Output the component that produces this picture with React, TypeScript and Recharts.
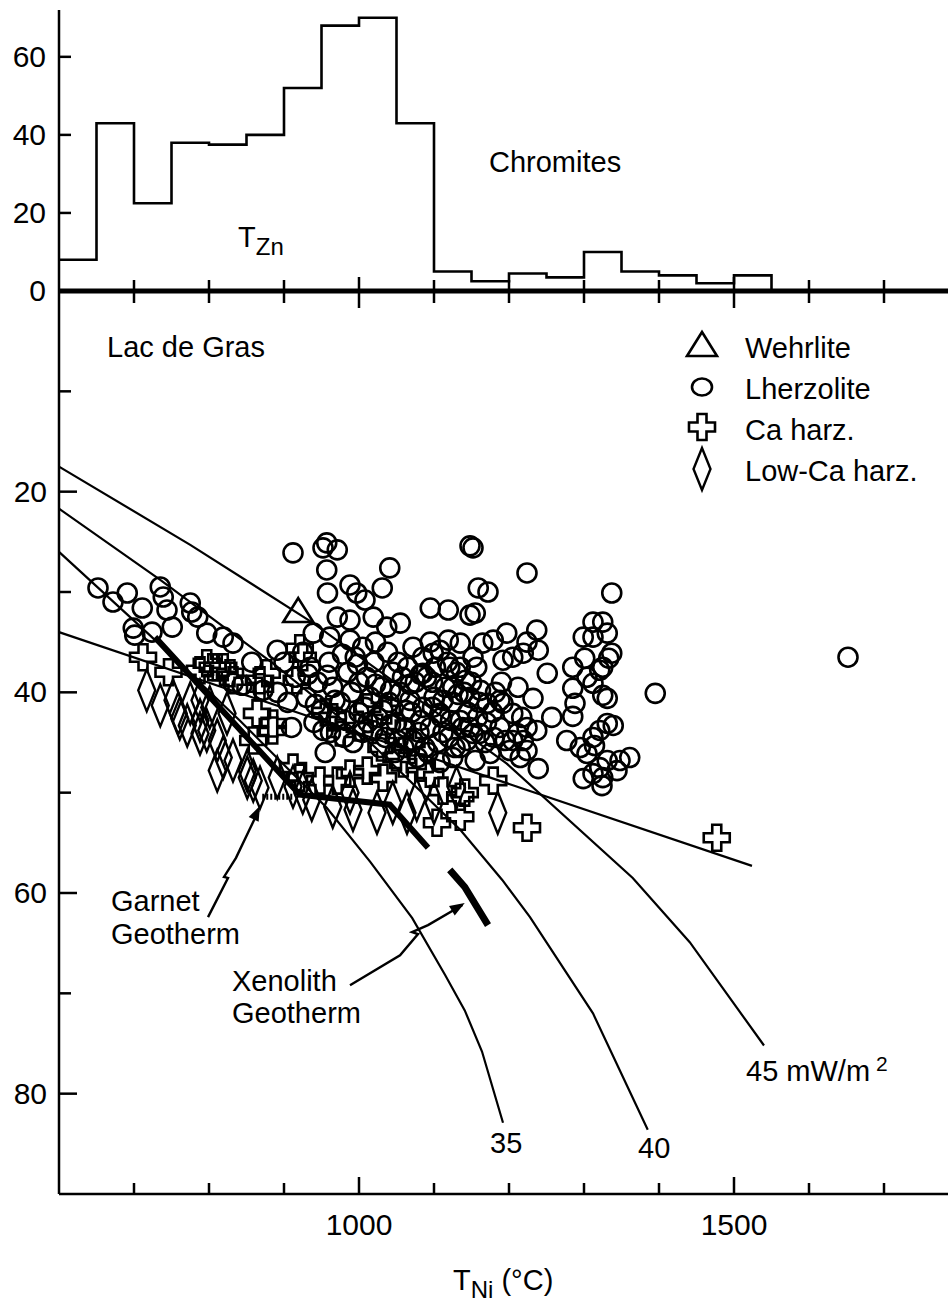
import React from "react";
import { ComposedChart, Line, Scatter, XAxis, YAxis } from "recharts";

const FONT = '"Liberation Sans", Arial, Helvetica, sans-serif';

// T(Zn) histogram of chromites, 50 °C bins
const binStarts = [600, 650, 700, 750, 800, 850, 900, 950, 1000, 1050, 1100, 1150, 1200, 1250, 1300, 1350, 1400, 1450, 1500];
const binCounts = [8, 43, 22.5, 38, 37.5, 40, 52, 68, 70, 43, 5, 2.5, 4.5, 3.5, 10, 5, 4, 2, 4];
const binWidth = 50;

const tempTicks = [600, 700, 800, 900, 1000, 1100, 1200, 1300, 1400, 1500, 1600, 1700, 1800];
const tempLabels = [1000, 1500];
const histTicks = [0, 20, 40, 60];
const pressTicks = [10, 20, 30, 40, 50, 60, 70, 80];
const pressLabels = [20, 40, 60, 80];

// garnet xenocrysts: [T_Ni °C, P kbar]
const wehrlite = [[919, 32.0]];

const lherzolite = [
  [652, 29.6], [672, 31.0], [691, 30.1], [711, 31.6], [735, 29.5], [739, 30.5], [744, 31.8],
  [699, 33.6], [701, 34.3], [724, 34.0], [751, 33.5], [775, 31.1], [777, 32.0], [785, 32.5],
  [797, 34.1], [819, 34.5], [832, 35.1], [891, 35.8], [857, 37.0], [832, 39.1], [844, 39.3],
  [872, 39.8], [891, 40.0],
  [912, 26.1], [952, 25.6], [957, 25.1], [971, 25.8], [957, 27.8], [958, 30.1], [988, 29.3],
  [997, 30.1], [1008, 30.8], [1041, 27.6], [1031, 29.6],
  [1095, 31.6], [1119, 31.8], [1148, 32.3], [1155, 32.1], [971, 32.5], [988, 32.8], [1019, 32.5],
  [1037, 33.5], [1055, 33.1], [939, 34.1], [961, 34.5], [988, 34.8], [1072, 35.5], [1099, 36.1],
  [1135, 35.1], [1152, 36.5], [1095, 35.0], [1119, 34.8],
  [1148, 25.4], [1152, 25.6], [1224, 28.1], [1159, 29.6], [1172, 30.0], [1337, 30.1],
  [1312, 33.0], [1325, 33.0], [1331, 34.1], [1299, 34.5], [1312, 34.5], [1237, 33.8], [1197, 34.1],
  [1179, 34.8], [1165, 35.1], [1205, 36.5], [1219, 36.1], [1239, 35.8], [1224, 35.0], [1192, 36.8],
  [1337, 36.1], [1285, 37.5], [1301, 36.6], [1325, 37.5], [1333, 36.6], [1251, 38.1],
  [1285, 39.6], [1304, 38.5], [1312, 39.1], [1321, 37.8], [1325, 40.3], [1331, 40.6], [1395, 40.1],
  [1288, 41.1], [1285, 42.4], [1257, 42.5], [1212, 39.5], [1232, 40.6],
  [1192, 41.1], [1205, 42.1], [1217, 42.5], [1224, 43.5], [1237, 43.8], [1211, 44.1], [1219, 44.8],
  [1215, 46.5], [1201, 45.8], [1331, 43.1], [1339, 43.3], [1321, 43.8], [1312, 44.5],
  [1277, 44.8], [1295, 45.5], [1304, 46.1], [1314, 45.3], [1361, 46.5], [1348, 46.8], [1331, 46.8],
  [1321, 47.5], [1312, 48.1], [1325, 48.5], [1344, 47.8], [1239, 47.6], [1299, 48.6], [1324, 49.3],
  [1155, 46.8], [1175, 46.1], [1135, 42.8], [1148, 43.5], [1135, 45.5], [1144, 44.8], [1152, 44.1],
  [1108, 35.8], [1085, 38.1], [1121, 37.5], [1157, 37.5], [1188, 40.8], [1171, 41.1], [1148, 40.5],
  [1125, 39.5], [1108, 42.1], [1161, 44.1], [1188, 43.5], [1205, 44.8], [1224, 45.8],
  [925, 36.0], [935, 37.5], [945, 39.0], [930, 40.5], [950, 41.8], [940, 43.0], [960, 37.0],
  [965, 39.5], [975, 41.0], [970, 42.5], [985, 38.0], [990, 40.0], [995, 36.5], [1000, 42.0],
  [1005, 44.0], [1010, 38.5], [1015, 40.5], [1020, 37.0], [1025, 42.5], [1030, 39.5], [1035, 44.5],
  [1040, 41.0], [1045, 38.0], [1050, 43.0], [1055, 40.0], [1060, 45.5], [1065, 37.5], [1070, 42.0],
  [1075, 39.0], [1080, 44.0], [1085, 41.5], [1090, 38.5], [1095, 43.5], [1100, 40.5], [1105, 45.0],
  [1110, 42.5], [1115, 39.5], [1120, 44.5], [1125, 41.0], [1130, 38.0], [1140, 40.0], [1145, 42.0],
  [1150, 39.0], [1160, 41.0], [1170, 43.0], [1180, 44.5], [1190, 39.0], [1000, 39.0], [1012, 43.0],
  [1028, 45.5], [1048, 46.0], [1062, 43.5], [1078, 46.5], [1092, 46.0], [1102, 37.5], [1118, 37.0],
  [1135, 37.5], [980, 44.5], [962, 44.0], [955, 46.0], [1108, 47.0], [1125, 46.5], [1058, 38.5],
  [1038, 36.0], [1022, 35.0], [1005, 35.5], [1068, 40.8], [1085, 36.5], [905, 41.0], [915, 38.5],
  [900, 37.0], [910, 43.5],
  [932, 38.2], [942, 41.2], [952, 43.8], [958, 38.3], [968, 40.8], [978, 36.2], [982, 42.8],
  [992, 45.0], [998, 37.2], [1008, 41.5], [1018, 43.8], [1022, 39.2], [1032, 41.8], [1042, 43.2],
  [1042, 39.8], [1052, 37.0], [1052, 44.8], [1062, 41.8], [1068, 39.2], [1072, 44.8], [1082, 38.2],
  [1082, 42.8], [1088, 45.5], [1098, 41.5], [1098, 39.0], [1112, 40.8], [1112, 44.0], [1122, 42.8],
  [1128, 45.5], [1132, 40.2], [1138, 43.5], [1142, 38.8], [1158, 42.5], [1162, 39.8], [1168, 45.0],
  [1178, 42.0], [1182, 40.0], [1195, 44.8],
  [1652, 36.5],
];

const caHarz = [
  [712, 36.5], [746, 38.0], [797, 37.1], [788, 37.8], [805, 37.5], [811, 37.5], [819, 37.5],
  [828, 38.1], [832, 38.8], [868, 38.8], [868, 39.5], [877, 38.1], [925, 36.5], [917, 38.8],
  [864, 42.1], [885, 43.1], [885, 43.8], [859, 44.8], [921, 35.6], [955, 42.0], [965, 42.5],
  [975, 44.0], [1011, 41.5], [1037, 41.8], [1001, 43.5], [1055, 44.1], [1030, 45.5], [1050, 46.5],
  [1070, 45.0], [912, 47.5], [921, 48.5], [948, 48.8], [971, 48.8], [988, 48.1], [1011, 47.8],
  [1032, 48.5], [1059, 47.1], [1081, 47.5], [1095, 48.1], [1112, 49.8], [1135, 50.4], [1104, 53.0],
  [1135, 52.4], [1179, 48.8], [1141, 50.0], [1224, 53.5], [1477, 54.5],
];

const lowCaHarz = [
  [717, 39.8], [735, 41.3], [752, 40.8], [759, 42.1], [761, 42.6], [771, 43.3], [775, 41.1],
  [788, 40.8], [788, 42.8], [788, 44.1], [797, 43.8], [801, 41.5], [811, 44.8], [819, 46.5],
  [811, 47.8], [824, 42.1], [832, 46.8], [851, 47.8], [851, 48.5], [859, 48.8], [868, 49.5],
  [891, 48.5], [912, 49.4], [925, 50.0], [937, 50.7], [965, 51.4], [988, 50.0], [992, 51.7],
  [1024, 52.0], [1045, 51.0], [1064, 52.0], [1077, 50.7], [1100, 51.0], [1130, 49.5], [1185, 52.0],
];

// model geotherms (mW/m2) and graphite-diamond boundary
const geotherm35 = [[600, 26.0], [721, 34.3], [841, 42.8], [957, 51.5], [1015, 56.9], [1071, 62.5], [1115, 68.2], [1141, 71.7], [1164, 75.8], [1192, 82.9]];
const geotherm40 = [[600, 21.7], [735, 28.8], [885, 37.1], [1015, 45.0], [1135, 53.7], [1191, 58.7], [1228, 62.4], [1312, 72.0], [1385, 83.6]];
const geotherm45 = [[600, 17.5], [775, 25.3], [939, 33.1], [1081, 40.8], [1197, 47.1], [1365, 58.5], [1441, 64.9], [1540, 75.2]];
const graphiteDiamond = [[600, 34.0], [1524, 57.3]];
const garnetGeotherm = [[728, 34.5], [921, 50.2], [1041, 51.2], [1092, 55.5]];
const garnetDashed = [[871, 50.4], [912, 50.4]];
const xenolithGeotherm = [[1121, 57.7], [1141, 59.4], [1172, 63.2]];
const garnetArrow = [[798.7, 62.4], [825.3, 58.5], [820, 58.4], [836, 56.5], [866, 51.8]];
const xenolithArrow = [[988, 69.2], [1054.7, 66.2], [1078.7, 64.1], [1070.7, 63.9], [1092, 63.2], [1138, 61.2]];
const arrowTips = [{ t: 868, p: 51.3, angle: -65 }, { t: 1141, p: 61.0, angle: -31 }];

const pts = (a: number[][]) => a.map(([t, p]) => ({ t, p }));

const histData = [
  ...binStarts.map((t, i) => ({ t, n: binCounts[i] })),
  { t: binStarts[binStarts.length - 1] + binWidth, n: 0 },
];

const INK = "#000";
const textStyle = { fontFamily: FONT, fontSize: 29, fill: INK };
const tickText = { fontFamily: FONT, fontSize: 30, fill: INK };

const Circ = ({ cx, cy }: any) => (
  <circle cx={cx} cy={cy} r={9.5} fill="none" stroke={INK} strokeWidth={2.6} />
);
const Cross = ({ cx, cy }: any) => (
  <path
    transform={`translate(${cx},${cy})`}
    d="M-4.5,-13H4.5V-4.5H13V4.5H4.5V13H-4.5V4.5H-13V-4.5H-4.5Z"
    fill="none"
    stroke={INK}
    strokeWidth={2.6}
  />
);
const Diamond = ({ cx, cy }: any) => (
  <polygon
    transform={`translate(${cx},${cy})`}
    points="0,-21 8.5,0 0,21 -8.5,0"
    fill="none"
    stroke={INK}
    strokeWidth={2.4}
  />
);
const Tri = ({ cx, cy }: any) => (
  <polygon
    transform={`translate(${cx},${cy})`}
    points="0,-14 15,10 -15,10"
    fill="none"
    stroke={INK}
    strokeWidth={2.6}
  />
);
const Head = (p: any) => (
  <polygon
    transform={`translate(${p.cx},${p.cy}) rotate(${p.payload.angle})`}
    points="0,0 -15,-5.5 -15,5.5"
    fill={INK}
  />
);

const HistXTick = ({ x, y, payload }: any) => {
  const v = payload.value;
  if (v === 600 || v === 1800) return <g />;
  const major = tempLabels.includes(v);
  return <line x1={x} x2={x} y1={y - (major ? 14 : 11)} y2={y + (major ? 17 : 12)} stroke={INK} strokeWidth={2.5} />;
};

const HistYTick = ({ x, y, payload }: any) => (
  <g>
    <line x1={x} x2={x + 12} y1={y} y2={y} stroke={INK} strokeWidth={2.5} />
    <text x={x - 13} y={y + 10} textAnchor="end" {...tickText}>{payload.value}</text>
  </g>
);

const BottomTick = ({ x, y, payload }: any) => {
  const v = payload.value;
  if (v === 600 || v === 1800) return <g />;
  const major = tempLabels.includes(v);
  return (
    <g>
      <line x1={x} x2={x} y1={y} y2={y - (major ? 17 : 11)} stroke={INK} strokeWidth={2.5} />
      {major && <text x={x} y={y + 41} textAnchor="middle" {...tickText}>{v}</text>}
    </g>
  );
};

const LeftTick = ({ x, y, payload }: any) => {
  const v = payload.value;
  const major = pressLabels.includes(v);
  return (
    <g>
      <line x1={x} x2={x + (major ? 18 : 12)} y1={y} y2={y} stroke={INK} strokeWidth={2.5} />
      {major && <text x={x - 12} y={y + 10} textAnchor="end" {...tickText}>{v}</text>}
    </g>
  );
};

const RightTick = ({ x, y }: any) => (
  <line x1={x - 16} x2={x} y1={y} y2={y} stroke={INK} strokeWidth={2.5} />
);

const lineProps = { type: "linear" as const, dataKey: "p", stroke: INK, dot: false, activeDot: false, isAnimationActive: false };
const axisProps = { tickSize: 0, tickMargin: 0, tickLine: false, interval: 0 as const };

export default function App() {
  return (
    <div style={{ position: "absolute", left: 0, top: 0, width: 948, height: 1304, overflow: "hidden", background: "#fff" }}>
      {/* P-T scatter */}
      <div style={{ position: "absolute", left: 0, top: 0 }}>
        <ComposedChart width={980} height={1304} margin={{ top: 291, right: 20, bottom: 109, left: 58 }}>
          <XAxis dataKey="t" type="number" domain={[600, 1800]} ticks={tempTicks} height={1} {...axisProps}
            axisLine={{ stroke: INK, strokeWidth: 2.5 }} tick={<BottomTick />} />
          <YAxis dataKey="p" type="number" domain={[0, 90]} reversed ticks={pressTicks} width={1} {...axisProps}
            axisLine={{ stroke: INK, strokeWidth: 2.5 }} tick={<LeftTick />} />
          <YAxis yAxisId="r" orientation="right" type="number" domain={[0, 90]} reversed ticks={pressTicks} width={1} {...axisProps}
            axisLine={{ stroke: INK, strokeWidth: 2.5 }} tick={<RightTick />} />

          <Line {...lineProps} data={pts(geotherm35)} strokeWidth={2.2} />
          <Line {...lineProps} data={pts(geotherm40)} strokeWidth={2.2} />
          <Line {...lineProps} data={pts(geotherm45)} strokeWidth={2.2} />
          <Line {...lineProps} data={pts(graphiteDiamond)} strokeWidth={2.2} />

          <Scatter data={pts(lherzolite)} dataKey="p" shape={(p: any) => <Circ cx={p.cx} cy={p.cy} />} isAnimationActive={false} />
          <Scatter data={pts(caHarz)} dataKey="p" shape={(p: any) => <Cross cx={p.cx} cy={p.cy} />} isAnimationActive={false} />
          <Scatter data={pts(lowCaHarz)} dataKey="p" shape={(p: any) => <Diamond cx={p.cx} cy={p.cy} />} isAnimationActive={false} />
          <Scatter data={pts(wehrlite)} dataKey="p" shape={(p: any) => <Tri cx={p.cx} cy={p.cy} />} isAnimationActive={false} />

          <Line {...lineProps} data={pts(garnetGeotherm)} strokeWidth={6} />
          <Line {...lineProps} data={pts(garnetDashed)} strokeWidth={6} strokeDasharray="2 2" />
          <Line {...lineProps} data={pts(xenolithGeotherm)} strokeWidth={7} />
          <Line {...lineProps} data={pts(garnetArrow)} strokeWidth={2.4} />
          <Line {...lineProps} data={pts(xenolithArrow)} strokeWidth={2.4} />
          <Scatter data={arrowTips} dataKey="p" shape={Head} isAnimationActive={false} />
        </ComposedChart>
      </div>

      {/* T(Zn) histogram */}
      <div style={{ position: "absolute", left: 0, top: 0 }}>
        <ComposedChart width={980} height={320} data={histData} margin={{ top: 10, right: 21, bottom: 28, left: 58 }}>
          <XAxis dataKey="t" type="number" domain={[600, 1800]} ticks={tempTicks} height={1} {...axisProps}
            axisLine={{ stroke: INK, strokeWidth: 5 }} tick={<HistXTick />} />
          <YAxis type="number" domain={[0, 72]} ticks={histTicks} width={1} {...axisProps}
            axisLine={{ stroke: INK, strokeWidth: 2.5 }} tick={<HistYTick />} />
          <Line type="stepAfter" dataKey="n" stroke={INK} strokeWidth={2.6} dot={false} activeDot={false} isAnimationActive={false} />
        </ComposedChart>
      </div>

      {/* labels and legend */}
      <svg width={948} height={1304} style={{ position: "absolute", left: 0, top: 0, pointerEvents: "none" }}>
        <text x={238} y={247} {...textStyle}>T<tspan fontSize={24} dy={8}>Zn</tspan></text>
        <text x={489} y={172} {...textStyle}>Chromites</text>
        <text x={107} y={357} {...textStyle}>Lac de Gras</text>

        <Tri cx={702} cy={346} />
        <text x={745} y={358} {...textStyle}>Wehrlite</text>
        <ellipse cx={702} cy={387} rx={10} ry={8.5} fill="none" stroke={INK} strokeWidth={2.6} />
        <text x={745} y={399} {...textStyle}>Lherzolite</text>
        <Cross cx={702} cy={427} />
        <text x={745} y={440} {...textStyle}>Ca harz.</text>
        <Diamond cx={702} cy={469} />
        <text x={745} y={481} {...textStyle}>Low-Ca harz.</text>

        <text x={111} y={911} {...textStyle}>Garnet</text>
        <text x={111} y={944} {...textStyle}>Geotherm</text>
        <text x={232} y={991} {...textStyle}>Xenolith</text>
        <text x={232} y={1023} {...textStyle}>Geotherm</text>

        <text x={490} y={1153} {...textStyle}>35</text>
        <text x={638} y={1158} {...textStyle}>40</text>
        <text x={746} y={1081} {...textStyle}>45 mW/m<tspan fontSize={21} dx={6} dy={-10}>2</tspan></text>

        <text x={453} y={1290} {...textStyle}>T<tspan fontSize={24} dy={8}>Ni</tspan><tspan dy={-8}> (°C)</tspan></text>
      </svg>
    </div>
  );
}
